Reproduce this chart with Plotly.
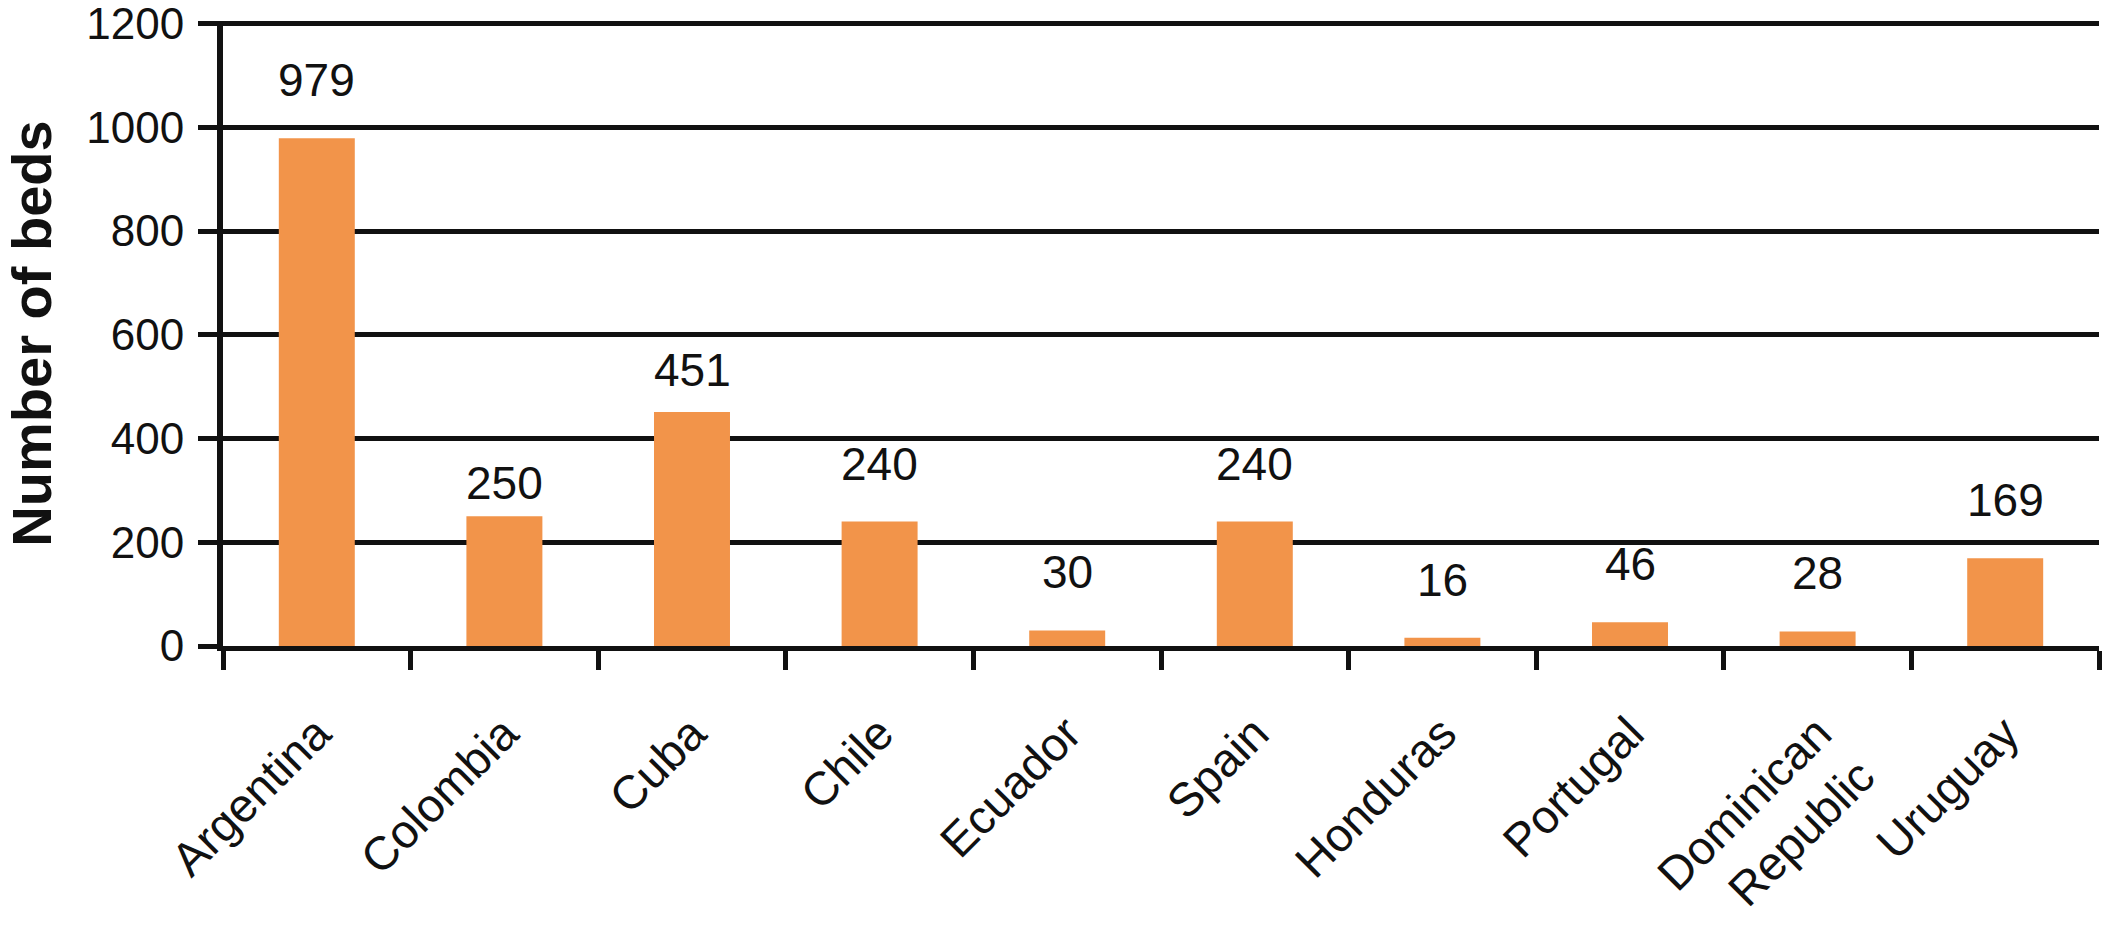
import plotly.graph_objects as go

categories = ["Argentina", "Colombia", "Cuba", "Chile", "Ecuador", "Spain",
              "Honduras", "Portugal", "Dominican<br>Republic", "Uruguay"]
beds = [979, 250, 451, 240, 30, 240, 16, 46, 28, 169]
value_labels = ["979", "250", "451", "240", "30", "240", "16", "46", "28", "169"]
y_ticks = [0, 200, 400, 600, 800, 1000, 1200]

# style: vertical offset (px) of each value label above its bar
label_offsets = [58, 33, 42, 58, 58, 58, 58, 58, 58, 58]

FONT = "Liberation Sans, Arial, Helvetica, sans-serif"
INK = "#111111"
BAR = "#F2944A"

fig = go.Figure()
fig.add_trace(go.Bar(x=categories, y=beds, marker=dict(color=BAR, line=dict(width=0)),
                     width=0.405, hoverinfo="skip", showlegend=False))

for cat, val, txt, off in zip(categories, beds, value_labels, label_offsets):
    fig.add_annotation(x=cat, y=val, text=txt, showarrow=False, yanchor="middle",
                       yshift=off, font=dict(family=FONT, size=46, color=INK))

fig.update_layout(
    width=2102, height=933,
    margin=dict(l=223, r=3, t=21, b=287, autoexpand=False),
    paper_bgcolor="white", plot_bgcolor="white",
    font=dict(family=FONT, color=INK),
)
fig.update_xaxes(
    showline=True, linecolor=INK, linewidth=5,
    ticks="outside", tickson="boundaries", ticklen=19, tickwidth=5, tickcolor=INK,
    tickangle=-45, tickfont=dict(family=FONT, size=47, color=INK), ticklabelstandoff=36,
    showgrid=False, zeroline=False,
)
fig.update_yaxes(
    range=[0, 1205], tickvals=y_ticks, ticktext=[str(v) for v in y_ticks],
    showline=True, linecolor=INK, linewidth=6,
    ticks="outside", ticklen=19, tickwidth=5, tickcolor=INK,
    tickfont=dict(family=FONT, size=44, color=INK), ticklabelstandoff=5,
    ticklabeloverflow="allow",
    showgrid=True, gridcolor=INK, gridwidth=5, zeroline=False,
    title=dict(text="Number of beds", standoff=46,
               font=dict(family=FONT, size=56, color=INK, weight="bold")),
)

fig.write_html("out.html", config={"displayModeBar": False},
               post_script="document.body.style.margin='0';")
